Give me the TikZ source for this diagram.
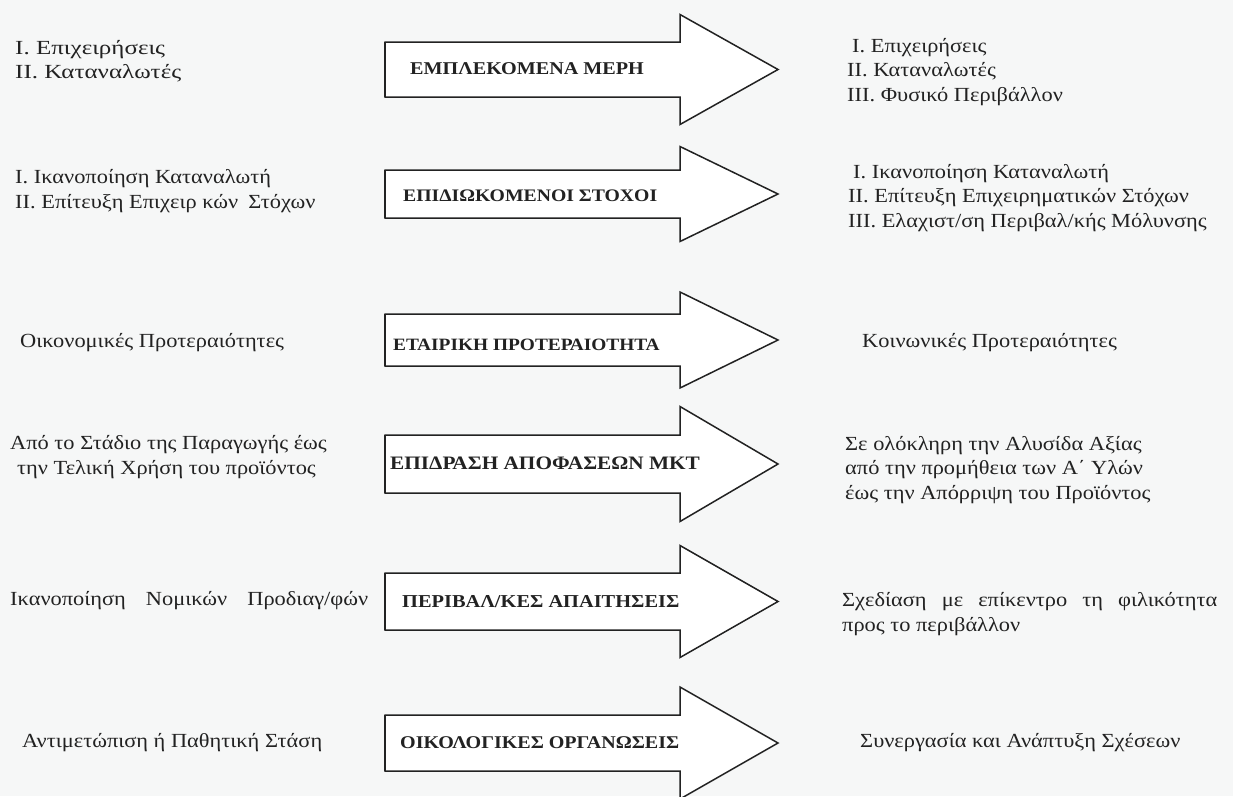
\documentclass[tikz,border=0pt]{standalone}
\usepackage{fontspec}
\setmainfont[FakeStretch=1.12]{Liberation Serif}
\newfontfamily\widefont[FakeStretch=1.25]{Liberation Serif}
\definecolor{bg}{HTML}{F6F7F7}
\definecolor{ink}{HTML}{222222}
% #1 name, #2 centre y, #3 shaft half height, #4 head half height
\newcommand\ArrowShape[4]{%
  \coordinate (#1-w) at (385,#2);
  \coordinate (#1-tip) at (778,#2);
  \draw[arrowbody] (385,#2-#3) -- (680,#2-#3) -- (680,#2-#4) -- (#1-tip) -- (680,#2+#4) -- (680,#2+#3) -- (385,#2+#3) -- cycle;
  \draw[ink,line width=2.6pt] (385,#2-#3) -- (385,#2+#3);
}
\begin{document}
\begin{tikzpicture}[x=1pt,y=-1pt,
  txt/.style={anchor=west,inner sep=0pt,font=\fontsize{20}{24.5}\selectfont,text=ink,align=left},
  lbl/.style={anchor=west,inner sep=0pt,text=ink},
  arrowbody/.style={draw=ink,line width=1.5pt,fill=white,line join=miter}]
\fill[bg] (0,0) rectangle (1233,796);
\useasboundingbox (0,0) rectangle (1233,796);
\begin{scope}
\clip (0,0) rectangle (1233,796);
% arrows
\ArrowShape{a1}{69.5}{27.5}{55}
\ArrowShape{a2}{194}{24}{47.5}
\ArrowShape{a3}{340}{26}{48}
\ArrowShape{a4}{464}{29}{57.5}
\ArrowShape{a5}{601.5}{28.5}{56}
\ArrowShape{a6}{743}{28}{56}
\end{scope}
% labels
\node[lbl,font=\fontsize{18}{20}\selectfont\bfseries] (k1) at (410,69) {ΕΜΠΛΕΚΟΜΕΝΑ ΜΕΡΗ};
\node[lbl,font=\fontsize{17.6}{20}\selectfont\bfseries] (k2) at (403,196) {ΕΠΙΔΙΩΚΟΜΕΝΟΙ ΣΤΟΧΟΙ};
\node[lbl,font=\fontsize{17.3}{20}\selectfont\bfseries] (k3) at (393,345) {ΕΤΑΙΡΙΚΗ ΠΡΟΤΕΡΑΙΟΤΗΤΑ};
\node[lbl,font=\fontsize{19}{20}\selectfont\bfseries] (k4) at (390,463) {ΕΠΙΔΡΑΣΗ ΑΠΟΦΑΣΕΩΝ ΜΚΤ};
\node[lbl,font=\fontsize{18.2}{20}\selectfont\bfseries] (k5) at (402,602) {ΠΕΡΙΒΑΛ/ΚΕΣ ΑΠΑΙΤΗΣΕΙΣ};
\node[lbl,font=\fontsize{17.9}{20}\selectfont\bfseries] (k6) at (400,743) {ΟΙΚΟΛΟΓΙΚΕΣ ΟΡΓΑΝΩΣΕΙΣ};
% left column
\node[txt,font=\widefont\fontsize{20}{24}\selectfont] (l1) at (15,61) {I. Επιχειρήσεις\\II. Καταναλωτές};
\node[txt] (l2) at (15,191) {I. Ικανοποίηση Καταναλωτή\\II. Επίτευξη Επιχειρ κών\enspace Στόχων};
\node[txt] (l3) at (20,343) {Οικονομικές Προτεραιότητες};
\node[txt] (l4) at (10,457) {Από το Στάδιο της Παραγωγής έως\\\hspace*{7pt}την Τελική Χρήση του προϊόντος};
\node[txt] (l5) at (10,601) {\makebox[358pt][s]{Ικανοποίηση Νομικών Προδιαγ/φών}};
\node[txt] (l6) at (22,743) {Αντιμετώπιση ή Παθητική Στάση};
% right column
\node[txt] (r1) at (847,72) {\hspace*{5pt}I. Επιχειρήσεις\\II. Καταναλωτές\\III. Φυσικό Περιβάλλον};
\node[txt] (r2) at (848,198) {\hspace*{5pt}I. Ικανοποίηση Καταναλωτή\\II. Επίτευξη Επιχειρηματικών Στόχων\\III. Ελαχιστ/ση Περιβαλ/κής Μόλυνσης};
\node[txt] (r3) at (862,343) {Κοινωνικές Προτεραιότητες};
\node[txt] (r4) at (845,470) {Σε ολόκληρη την Αλυσίδα Αξίας\\από την προμήθεια των Α΄ Υλών\\έως την Απόρριψη του Προϊόντος};
\node[txt] (r5) at (842,614) {\makebox[375pt][s]{Σχεδίαση με επίκεντρο τη φιλικότητα}\\προς το περιβάλλον};
\node[txt] (r6) at (860,743) {Συνεργασία και Ανάπτυξη Σχέσεων};
\end{tikzpicture}
\end{document}
